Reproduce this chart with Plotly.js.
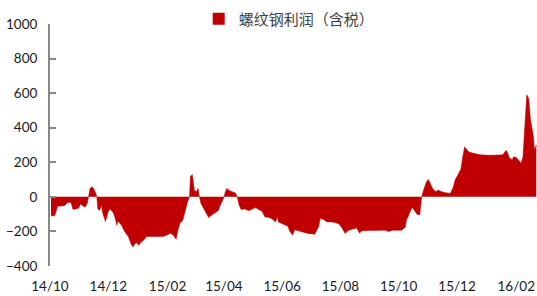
<!DOCTYPE html>
<html><head><meta charset="utf-8">
<script src="https://cdn.plot.ly/plotly-3.0.1.min.js"></script>
<style>html,body{margin:0;padding:0;background:#fff}#chart{width:537px;height:296px}</style>
</head><body><div id="chart"></div>
<script>
const seriesName = '螺纹钢利润（含税）';
const dates = [
'2014-10-02','2014-10-06','2014-10-09','2014-10-16','2014-10-19','2014-10-20','2014-10-23','2014-10-25','2014-10-28','2014-10-31',
'2014-11-02','2014-11-05','2014-11-07','2014-11-09','2014-11-10','2014-11-12','2014-11-14','2014-11-16','2014-11-18','2014-11-19',
'2014-11-20','2014-11-22','2014-11-24','2014-11-25','2014-11-28','2014-11-30','2014-12-01','2014-12-03','2014-12-06','2014-12-08',
'2014-12-10','2014-12-11','2014-12-13','2014-12-15','2014-12-18','2014-12-22','2014-12-25','2014-12-27','2014-12-29','2014-12-31',
'2015-01-02','2015-01-04','2015-01-07','2015-01-10','2015-01-19','2015-01-27','2015-01-31','2015-02-04','2015-02-07','2015-02-10',
'2015-02-12','2015-02-14','2015-02-17','2015-02-19','2015-02-22','2015-02-24','2015-02-25','2015-02-27','2015-02-28','2015-03-01',
'2015-03-03','2015-03-05','2015-03-06','2015-03-08','2015-03-10','2015-03-13','2015-03-16','2015-03-19','2015-03-23','2015-03-26',
'2015-03-29','2015-04-01','2015-04-02','2015-04-04','2015-04-07','2015-04-13','2015-04-15','2015-04-17','2015-04-19','2015-04-23',
'2015-04-27','2015-04-30','2015-05-04','2015-05-07','2015-05-11','2015-05-14','2015-05-17','2015-05-21','2015-05-25','2015-05-27',
'2015-05-28','2015-06-01','2015-06-04','2015-06-07','2015-06-09','2015-06-12','2015-06-14','2015-06-20','2015-06-25','2015-06-28',
'2015-07-05','2015-07-09','2015-07-11','2015-07-14','2015-07-18','2015-07-24','2015-07-30','2015-08-02','2015-08-06','2015-08-09',
'2015-08-14','2015-08-18','2015-08-21','2015-08-23','2015-08-29','2015-09-04','2015-09-11','2015-09-17','2015-09-20','2015-09-25',
'2015-10-04','2015-10-08','2015-10-09','2015-10-12','2015-10-15','2015-10-17','2015-10-20','2015-10-23','2015-10-24','2015-10-25',
'2015-10-27','2015-10-30','2015-11-01','2015-11-03','2015-11-06','2015-11-09','2015-11-11','2015-11-15','2015-11-18','2015-11-24',
'2015-11-27','2015-11-29','2015-12-03','2015-12-05','2015-12-07','2015-12-09','2015-12-11','2015-12-13','2015-12-18','2015-12-25',
'2016-01-05','2016-01-12','2016-01-18','2016-01-21','2016-01-22','2016-01-25','2016-01-28','2016-01-29','2016-02-01','2016-02-04',
'2016-02-06','2016-02-08','2016-02-10','2016-02-12','2016-02-14','2016-02-16','2016-02-19','2016-02-20','2016-02-22'
];
const profit = [
-110,-110,-55,-52,-35,-32,-32,-72,-70,-65,
-42,-55,-58,-38,-10,50,58,45,20,0,
-70,-78,-50,-90,-143,-110,-85,-70,-90,-120,
-164,-140,-150,-165,-200,-230,-275,-290,-270,-265,
-280,-262,-251,-230,-230,-230,-222,-211,-220,-245,
-190,-153,-135,-85,-29,0,120,128,80,39,
29,48,10,-38,-58,-90,-120,-106,-91,-80,
-38,-5,20,49,35,23,0,-48,-73,-70,
-81,-72,-62,-72,-85,-116,-118,-125,-145,-118,
-145,-155,-164,-170,-201,-222,-190,-201,-210,-212,
-216,-174,-124,-130,-145,-145,-155,-174,-212,-195,
-186,-180,-210,-197,-195,-193,-195,-193,-201,-193,
-193,-174,-135,-100,-62,-75,-100,-105,-39,0,
39,88,101,80,43,30,39,30,25,20,
55,97,136,160,232,290,275,261,252,243,
240,243,243,267,267,224,215,232,228,209,
193,232,444,590,571,444,348,271,300
];
const tickDates = ['2014-10-01','2014-12-01','2015-02-01','2015-04-01','2015-06-01','2015-08-01','2015-10-01','2015-12-01','2016-02-01'];
const tickLabels = ['14/10','14/12','15/02','15/04','15/06','15/08','15/10','15/12','16/02'];
const yTicks = [-400,-200,0,200,400,600,800,1000];
const yRange = [-400, 1000];
const xRange = ['2014-10-01', '2016-02-22 17:00'];

const red = '#C00000';
const axisGray = '#878787';
const labelColor = '#1a1a1a';

const traces = [
  {type:'scatter', x:dates, y:profit, mode:'lines', line:{width:0.5, color:red},
   fill:'tozeroy', fillcolor:red, showlegend:false, hoverinfo:'skip'},
  {type:'bar', x:[null], y:[null], name:seriesName, marker:{color:red}, showlegend:true, hoverinfo:'skip'}
];

const layout = {
  width:537, height:296,
  margin:{l:50, r:0, t:24, b:30, pad:0, autoexpand:false},
  paper_bgcolor:'#fff', plot_bgcolor:'rgba(0,0,0,0)',
  font:{family:'Lato, sans-serif', size:13, color:labelColor},
  showlegend:true,
  legend:{orientation:'h', xref:'container', yref:'container', x:0.37, y:1-19/296,
          xanchor:'left', yanchor:'middle', bgcolor:'rgba(0,0,0,0)',
          font:{family:'"Noto Sans CJK SC", sans-serif', size:15, color:'#404040'}},
  xaxis:{type:'date', range:xRange, tickvals:tickDates, ticktext:tickLabels,
         ticks:'', showline:false, showgrid:false, zeroline:false,
         tickfont:{family:'Lato, sans-serif', size:13.5, color:labelColor}, ticklabelstandoff:10, fixedrange:true},
  xaxis2:{type:'date', overlaying:'x', anchor:'free', position:(0-yRange[0])/(yRange[1]-yRange[0]), side:'top',
          range:xRange, tickvals:tickDates, showticklabels:false, ticks:'outside', ticklen:5, tickwidth:2,
          tickcolor:axisGray, showline:true, linecolor:axisGray, linewidth:2, showgrid:false, zeroline:false, fixedrange:true},
  yaxis:{range:yRange, tickvals:yTicks, ticks:'inside', ticklen:6, tickwidth:2, tickcolor:axisGray,
         showline:true, linecolor:axisGray, linewidth:2, showgrid:false, zeroline:false,
         tickfont:{family:'Lato, sans-serif', size:13.5, color:labelColor}, ticklabelstandoff:8, fixedrange:true}
};

Plotly.newPlot('chart', traces, layout, {displayModeBar:false, staticPlot:true});
</script>
</body></html>
